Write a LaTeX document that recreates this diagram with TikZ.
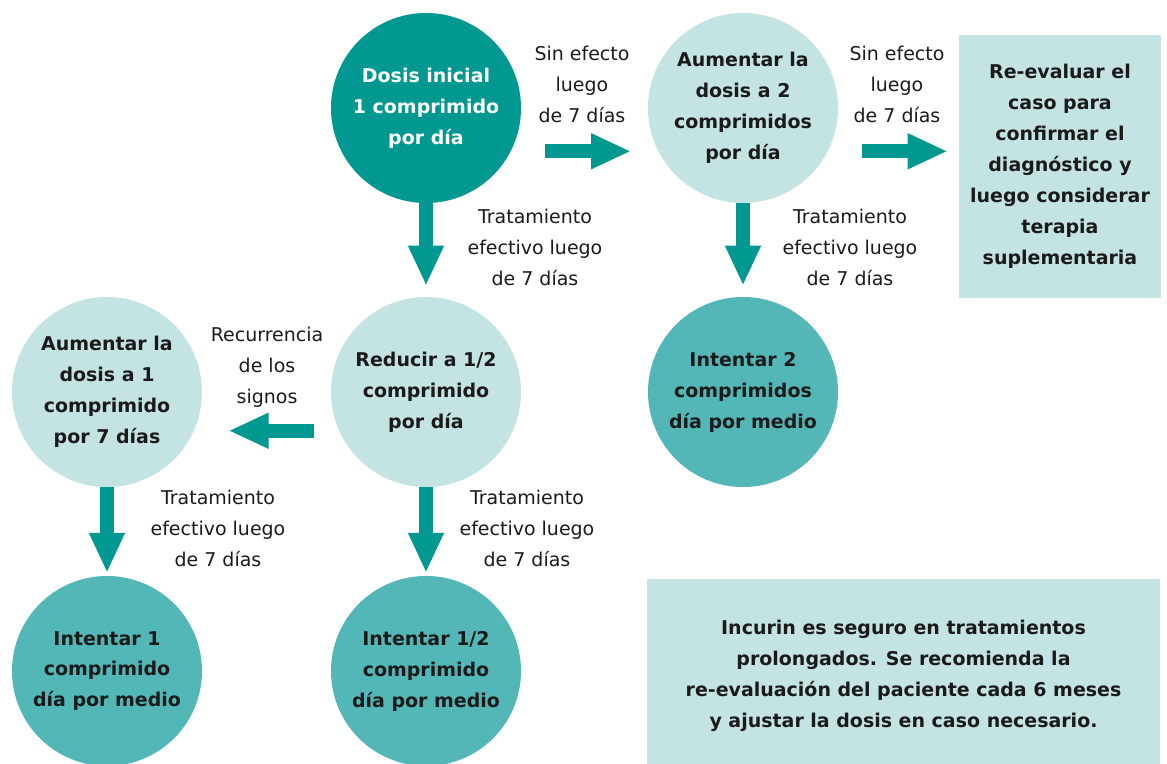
\documentclass[tikz,border=0pt]{standalone}
\usepackage{fontspec}
\setmainfont{DejaVu Sans}
\usetikzlibrary{arrows.meta}

\definecolor{tealdark}{HTML}{009891}
\definecolor{tealmid}{HTML}{52B7B6}
\definecolor{teallight}{HTML}{C4E3E3}
\definecolor{txt}{HTML}{1A1A1A}

\tikzset{
  paso/.style={circle, minimum size=4.75cm, inner sep=0pt, align=center,
    font=\bfseries\fontsize{13.5}{22}\selectfont, text=txt},
  inicio/.style={paso, fill=tealdark, text=white},
  ajuste/.style={paso, fill=teallight},
  meta/.style={paso, fill=tealmid},
  caja/.style={rectangle, fill=teallight, inner sep=0pt, align=center,
    font=\bfseries\fontsize{13.5}{22}\selectfont, text=txt},
  flecha/.style={draw=tealdark, line width=10pt,
    -{Triangle[length=28.5pt, width=23.5pt]}},
  nota/.style={align=center, font=\fontsize{13.5}{22}\selectfont, text=txt},
}

\begin{document}
\begin{tikzpicture}[x=0.025cm, y=-0.025cm]
    \useasboundingbox (0,0) rectangle (1167,764);

    % Fila de arriba
    \node[inicio] (inicial) at (426,108) {Dosis inicial\\1 comprimido\\por día};
    \node[ajuste] (dosis2) at (743,108) {Aumentar la\\dosis a 2\\comprimidos\\por día};
    \node[caja, minimum width=5.05cm, minimum height=6.575cm] (revisa) at (1060,166.5)
        {Re-evaluar el\\caso para\\confirmar el\\diagnóstico y\\luego considerar\\terapia\\suplementaria};

    % Fila del medio
    \node[ajuste] (aumenta1) at (107,392) {Aumentar la\\dosis a 1\\comprimido\\por 7 días};
    \node[ajuste] (reduce) at (426,392) {Reducir a 1/2\\comprimido\\por día};
    \node[meta] (intenta2) at (743,392) {Intentar 2\\comprimidos\\día por medio};

    % Fila de abajo
    \node[meta] (intenta1) at (107,671) {Intentar 1\\comprimido\\día por medio};
    \node[meta] (intentamedio) at (426,671) {Intentar 1/2\\comprimido\\día por medio};
    \node[caja, minimum width=12.825cm, minimum height=4.85cm] (aviso) at (903.5,676)
        {Incurin es seguro en tratamientos\\prolongados. Se recomienda la\\re-evaluación del paciente cada 6 meses\\y ajustar la dosis en caso necesario.};

    % Flechas
    \draw[flecha, shorten <=24.4pt, shorten >=19.2pt] (inicial.-27) -- (dosis2.207);
    \draw[flecha, shorten <=24.4pt, shorten >=7.8pt] (dosis2.-27) -- (dosis2.-27 -| revisa.west);
    \draw[flecha, shorten >=7.8pt] (inicial.south) -- (reduce.north);
    \draw[flecha, shorten >=7.8pt] (dosis2.south) -- (intenta2.north);
    \draw[flecha, shorten <=17.4pt, shorten >=24.5pt] (reduce.204) -- (aumenta1.-24);
    \draw[flecha, shorten >=2pt] (aumenta1.south) -- (intenta1.north);
    \draw[flecha, shorten >=2pt] (reduce.south) -- (intentamedio.north);

    % Textos de las flechas
    \node[nota] (sin1) at (582,84) {Sin efecto\\luego\\de 7 días};
    \node[nota] (sin2) at (897,84) {Sin efecto\\luego\\de 7 días};
    \node[nota] (trat1) at (535,247) {Tratamiento\\efectivo luego\\de 7 días};
    \node[nota] (trat2) at (850,247) {Tratamiento\\efectivo luego\\de 7 días};
    \node[nota] (recurre) at (267,367) {Recurrencia\\de los\\signos};
    \node[nota] (trat3) at (218,528) {Tratamiento\\efectivo luego\\de 7 días};
    \node[nota] (trat4) at (527,528) {Tratamiento\\efectivo luego\\de 7 días};
\end{tikzpicture}
\end{document}
